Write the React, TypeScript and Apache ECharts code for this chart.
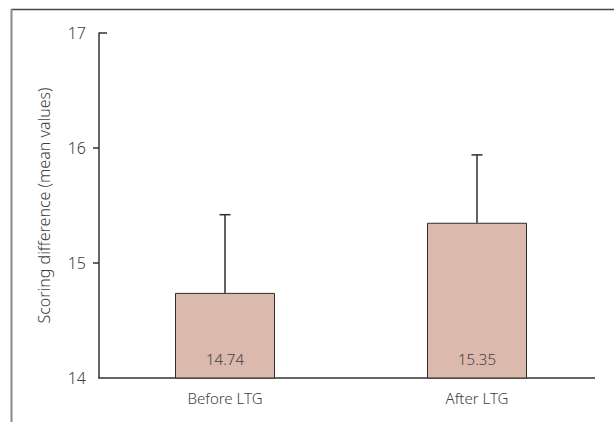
import React, { useEffect, useRef } from "react";
import * as echarts from "echarts";

const categories = ["Before LTG", "After LTG"];
const meanValues = [14.74, 15.35];
const upperValues = [15.42, 15.94];
const yTicks = [14, 15, 16, 17];

const FONT = "'Noto Sans', 'Open Sans', sans-serif";
const TEXT = "#404040";

export default function App() {
  const ref = useRef<HTMLDivElement>(null);
  useEffect(() => {
    if (!ref.current) return;
    const chart = echarts.init(ref.current, null, { renderer: "svg" });
    const errData = categories.map((_, i) => [i, meanValues[i], upperValues[i]]);
    chart.setOption({
      animation: false,
      backgroundColor: "#ffffff",
      grid: { left: 99, right: 11, top: 33, bottom: 44 },
      xAxis: {
        type: "category",
        data: categories,
        axisLine: { show: false },
        axisTick: { show: false },
        axisLabel: { color: TEXT, fontFamily: FONT, fontSize: 15, fontWeight: 300, margin: 12 },
      },
      yAxis: {
        type: "value",
        min: yTicks[0],
        max: yTicks[yTicks.length - 1],
        interval: 1,
        name: "Scoring difference (mean values)",
        nameLocation: "middle",
        nameGap: 47,
        nameTextStyle: { color: TEXT, fontFamily: FONT, fontSize: 16, fontWeight: 300 },
        axisLine: { show: true, lineStyle: { color: "#333", width: 1.5 } },
        axisTick: {
          show: true,
          length: 6,
          customValues: [15, 16],
          lineStyle: { color: "#333", width: 1.5 },
        },
        splitLine: { show: false },
        axisLabel: { color: TEXT, fontFamily: FONT, fontSize: 16, fontWeight: 300, margin: 13 },
      },
      graphic: [
        { type: "line", shape: { x1: 11, y1: 9.5, x2: 614, y2: 9.5 }, style: { stroke: "#444", lineWidth: 1.5 } },
        { type: "line", shape: { x1: 11.5, y1: 9, x2: 11.5, y2: 422 }, style: { stroke: "#8a8a8a", lineWidth: 2 } },
        { type: "line", shape: { x1: 99, y1: 33, x2: 107, y2: 33 }, style: { stroke: "#333", lineWidth: 1.5 } },
        { type: "line", shape: { x1: 98.5, y1: 378, x2: 595, y2: 378 }, style: { stroke: "#333", lineWidth: 1.5 } },
      ],
      series: [
        {
          type: "bar",
          data: meanValues,
          barWidth: 100,
          itemStyle: { color: "#dbb9ad", borderColor: "#2e2e2e", borderWidth: 1 },
          label: {
            show: true,
            position: "insideBottom",
            distance: 12,
            color: TEXT,
            fontFamily: FONT,
            fontSize: 15,
            fontWeight: 300,
            formatter: (p: any) => p.value.toFixed(2),
          },
          z: 2,
        },
        {
          type: "custom",
          data: errData,
          z: 3,
          renderItem: (params: any, api: any) => {
            const x = api.value(0);
            const base = api.coord([x, api.value(1)]);
            const top = api.coord([x, api.value(2)]);
            const half = 5.5;
            return {
              type: "group",
              children: [
                { type: "line", shape: { x1: base[0], y1: base[1], x2: top[0], y2: top[1] }, style: { stroke: "#2e2e2e", lineWidth: 1.5 } },
                { type: "line", shape: { x1: top[0] - half, y1: top[1], x2: top[0] + half, y2: top[1] }, style: { stroke: "#2e2e2e", lineWidth: 1.5 } },
              ],
            };
          },
        },
      ],
    });
    return () => chart.dispose();
  }, []);
  return (
    <div
      ref={ref}
      style={{ position: "fixed", left: 0, top: 0, width: 614, height: 422 }}
    />
  );
}
